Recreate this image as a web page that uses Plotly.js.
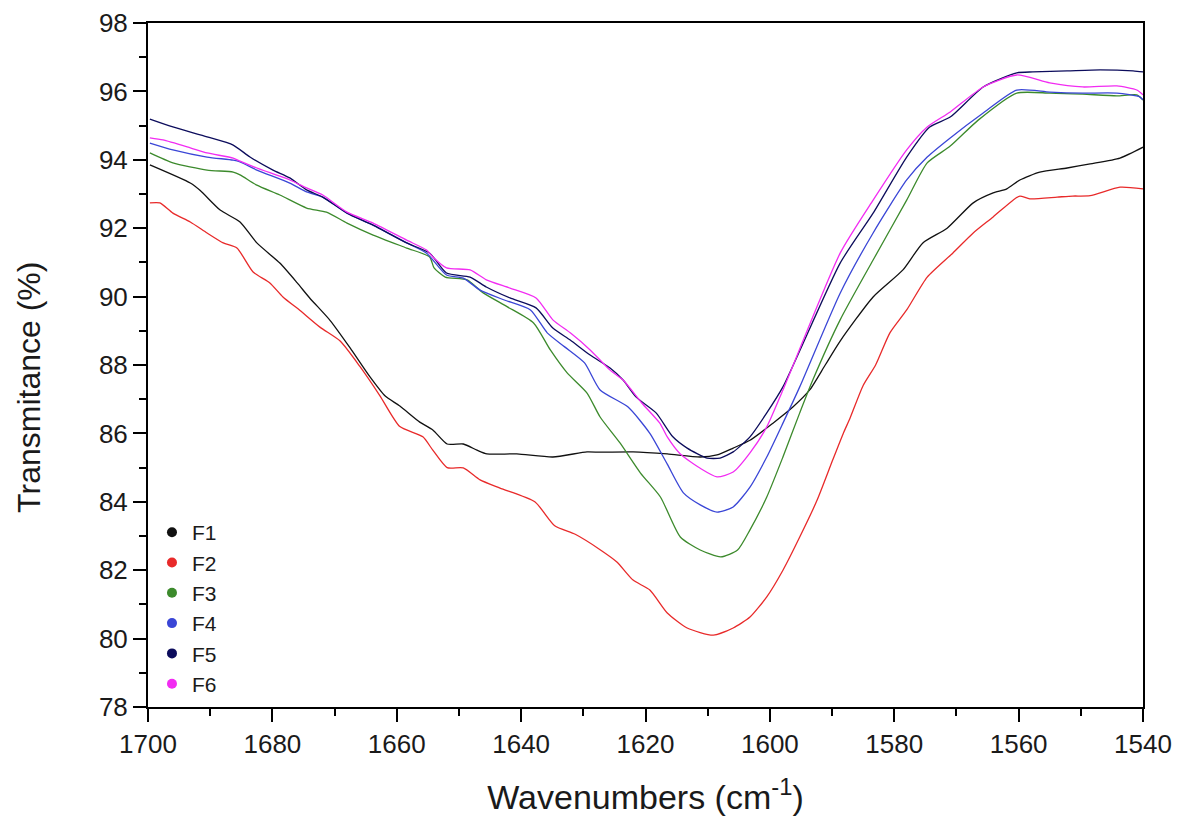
<!DOCTYPE html>
<html>
<head>
<meta charset="utf-8">
<script src="https://cdn.plot.ly/plotly-3.0.1.min.js"></script>
<style>html,body{margin:0;padding:0;background:#fff;}#chart{width:1188px;height:816px;}</style>
</head>
<body>
<div id="chart"></div>
<script>
// Series labels and colours
const seriesNames = ["F1", "F2", "F3", "F4", "F5", "F6"];
const seriesColors = ["#111111", "#e82a2a", "#3c8a2c", "#3a46d6", "#0c0c5c", "#f22cf2"];

// F1 (black)
const f1Wave = [1699.7,1693.2,1691.6,1688.4,1685.2,1682.5,1678.8,1676.0,1674.0,1670.7,1667.5,1664.3,1661.9,1659.5,1656.3,1654.2,1651.9,1649.3,1647.1,1645.5,1640.7,1634.9,1629.4,1627.3,1622.0,1616.5,1611.2,1608.5,1605.9,1603.2,1599.5,1596.3,1593.6,1591.1,1588.7,1583.4,1578.6,1575.4,1571.5,1567.3,1564.1,1561.9,1559.8,1556.6,1552.2,1548.5,1543.7,1540.0];
const f1Trans = [93.85,93.32,93.10,92.53,92.18,91.57,90.98,90.40,89.96,89.30,88.50,87.65,87.10,86.80,86.33,86.10,85.69,85.69,85.51,85.40,85.40,85.31,85.46,85.45,85.46,85.40,85.31,85.37,85.57,85.80,86.30,86.77,87.27,88.00,88.70,89.99,90.78,91.57,92.00,92.74,93.03,93.15,93.41,93.64,93.76,93.88,94.05,94.37];

// F2 (red)
const f2Wave = [1699.7,1698.1,1696.0,1693.2,1690.5,1687.9,1685.7,1683.1,1680.4,1678.3,1675.6,1672.3,1669.1,1665.9,1662.7,1659.5,1655.8,1654.2,1651.9,1649.3,1646.6,1643.4,1637.8,1634.6,1631.3,1627.3,1624.6,1622.0,1619.3,1616.5,1613.3,1609.1,1605.9,1603.2,1600.5,1597.9,1595.2,1592.4,1589.9,1588.2,1587.1,1585.0,1583.0,1580.7,1578.0,1574.7,1570.6,1567.3,1564.1,1560.9,1559.8,1558.2,1553.8,1551.3,1548.5,1543.7,1540.0];
const f2Trans = [92.74,92.74,92.44,92.18,91.86,91.57,91.42,90.72,90.40,89.99,89.60,89.10,88.70,87.95,87.10,86.20,85.90,85.51,85.00,84.99,84.64,84.40,84.00,83.30,83.05,82.60,82.24,81.71,81.42,80.75,80.31,80.10,80.31,80.63,81.22,82.00,82.97,84.05,85.22,86.00,86.45,87.40,88.00,88.94,89.61,90.57,91.27,91.86,92.33,92.82,92.94,92.86,92.91,92.94,92.95,93.20,93.15];

// F3 (green)
const f3Wave = [1699.7,1696.0,1690.5,1686.3,1685.2,1682.5,1678.8,1674.5,1671.3,1668.0,1663.8,1658.4,1654.7,1654.0,1652.2,1648.7,1646.1,1642.2,1638.0,1635.3,1632.6,1629.4,1627.3,1624.1,1620.8,1617.6,1614.4,1611.2,1607.9,1605.2,1603.2,1600.5,1597.9,1595.2,1593.1,1588.7,1583.4,1578.0,1574.7,1571.0,1566.5,1560.3,1555.0,1549.7,1544.2,1541.0,1540.0];
const f3Trans = [94.20,93.91,93.70,93.64,93.56,93.26,92.97,92.59,92.47,92.15,91.80,91.42,91.16,90.84,90.57,90.49,90.11,89.70,89.23,88.44,87.77,87.18,86.48,85.72,84.84,84.14,82.97,82.59,82.39,82.59,83.18,84.14,85.31,86.60,87.56,89.32,91.07,92.82,93.91,94.40,95.16,95.95,95.95,95.92,95.87,95.90,95.75];

// F4 (blue)
const f4Wave = [1699.7,1696.0,1690.5,1686.3,1685.2,1682.5,1677.2,1674.5,1671.9,1668.0,1663.8,1658.4,1655.2,1652.0,1649.3,1646.6,1642.7,1638.5,1635.8,1633.0,1629.8,1627.3,1622.8,1619.3,1616.5,1613.9,1611.2,1608.5,1605.9,1603.2,1600.5,1597.9,1595.2,1588.7,1583.4,1578.0,1574.7,1571.0,1565.7,1560.3,1555.0,1549.7,1544.2,1540.5,1540.0];
const f4Trans = [94.49,94.29,94.08,93.99,93.94,93.70,93.32,93.06,92.91,92.44,92.09,91.57,91.27,90.63,90.54,90.19,89.90,89.61,88.94,88.53,88.06,87.27,86.77,86.00,85.10,84.26,83.91,83.70,83.85,84.43,85.31,86.30,87.36,90.10,91.86,93.41,94.08,94.64,95.37,96.04,95.98,95.95,95.95,95.84,95.75];

// F5 (navy)
const f5Wave = [1699.7,1696.0,1690.5,1686.3,1683.6,1679.9,1677.2,1674.5,1671.9,1668.0,1663.8,1658.4,1654.7,1652.0,1648.2,1645.6,1641.8,1637.6,1634.9,1632.1,1628.9,1625.7,1623.6,1621.5,1618.3,1615.6,1613.3,1610.1,1608.0,1605.9,1603.2,1600.5,1597.9,1588.7,1583.4,1578.0,1574.3,1571.0,1565.7,1560.3,1557.7,1552.2,1546.9,1541.6,1540.0];
const f5Trans = [95.19,94.96,94.67,94.43,94.08,93.70,93.47,93.12,92.91,92.44,92.09,91.57,91.27,90.69,90.57,90.28,89.96,89.67,89.08,88.73,88.29,87.91,87.56,87.06,86.60,85.90,85.57,85.28,85.28,85.46,85.90,86.60,87.36,90.98,92.44,94.08,94.96,95.25,96.13,96.54,96.57,96.60,96.63,96.60,96.57];

// F6 (magenta)
const f6Wave = [1699.7,1697.6,1693.2,1690.5,1686.3,1685.2,1682.5,1677.2,1674.5,1671.9,1668.0,1663.8,1658.4,1655.2,1654.2,1652.0,1648.2,1645.6,1641.8,1637.6,1634.9,1632.1,1628.9,1625.7,1623.6,1620.6,1617.7,1616.5,1614.4,1611.2,1608.5,1605.9,1603.2,1600.5,1597.9,1588.7,1583.4,1578.0,1574.7,1571.0,1565.7,1560.3,1555.0,1549.7,1544.2,1541.0,1540.0];
const f6Trans = [94.64,94.58,94.35,94.20,94.05,93.96,93.76,93.41,93.18,92.97,92.47,92.15,91.65,91.36,91.16,90.84,90.78,90.49,90.25,89.96,89.32,88.94,88.44,87.85,87.56,86.89,86.30,85.90,85.40,84.98,84.73,84.87,85.43,86.19,87.27,91.27,92.82,94.29,94.96,95.40,96.13,96.48,96.25,96.13,96.16,96.04,95.90];

// Axis ticks and titles
const xTickVals = [1700,1680,1660,1640,1620,1600,1580,1560,1540];
const yTickVals = [78,80,82,84,86,88,90,92,94,96,98];
const xTitle = 'Wavenumbers (cm<sup>-1</sup>)';
const yTitle = 'Transmitance (%)';

const waves = [f1Wave, f2Wave, f3Wave, f4Wave, f5Wave, f6Wave];
const trans = [f1Trans, f2Trans, f3Trans, f4Trans, f5Trans, f6Trans];

const traces = [];
for (let i = 0; i < seriesNames.length; i++) {
  traces.push({
    x: waves[i], y: trans[i], type: 'scatter', mode: 'lines',
    name: seriesNames[i], showlegend: false,
    line: {color: seriesColors[i], width: 1.3, shape: 'spline', smoothing: 0.6}
  });
}
for (let i = 0; i < seriesNames.length; i++) {
  traces.push({
    x: [null], y: [null], type: 'scatter', mode: 'markers',
    name: seriesNames[i], legendgroup: 'g' + i, showlegend: true,
    marker: {color: seriesColors[i], size: 10, symbol: 'circle'}
  });
}

const fontFam = 'Liberation Sans, Arial, sans-serif';
const layout = {
  width: 1188, height: 816,
  margin: {l: 148, r: 45, t: 23, b: 109},
  paper_bgcolor: '#ffffff', plot_bgcolor: '#ffffff',
  font: {family: fontFam, color: '#1a1a1a'},
  showlegend: true,
  legend: {
    x: 0.004, xanchor: 'left', y: 0.285, yanchor: 'top',
    font: {size: 21, family: fontFam, color: '#1a1a1a'},
    bgcolor: 'rgba(0,0,0,0)', borderwidth: 0,
    traceorder: 'grouped', tracegroupgap: 0, itemwidth: 30
  },
  xaxis: {
    range: [1700, 1540], autorange: false,
    tickvals: xTickVals, ticktext: xTickVals.map(String),
    ticks: 'outside', ticklen: 13, tickwidth: 2, tickcolor: '#000',
    minor: {dtick: 10, tick0: 1700, ticks: 'outside', ticklen: 7, tickwidth: 2, tickcolor: '#000', showgrid: false},
    showline: true, linecolor: '#000', linewidth: 2, mirror: true,
    showgrid: false, zeroline: false,
    tickfont: {size: 26, family: fontFam, color: '#1a1a1a'},
    title: {text: xTitle, font: {size: 34, family: fontFam, color: '#1a1a1a'}, standoff: 28}
  },
  yaxis: {
    range: [78, 98], autorange: false,
    tickvals: yTickVals, ticktext: yTickVals.map(String),
    ticks: 'outside', ticklen: 13, tickwidth: 2, tickcolor: '#000',
    minor: {dtick: 1, tick0: 78, ticks: 'outside', ticklen: 7, tickwidth: 2, tickcolor: '#000', showgrid: false},
    showline: true, linecolor: '#000', linewidth: 2, mirror: true,
    showgrid: false, zeroline: false,
    tickfont: {size: 26, family: fontFam, color: '#1a1a1a'}
  },
  annotations: [{
    text: yTitle, xref: 'paper', yref: 'paper',
    x: -0.1196, y: 0.468, xanchor: 'center', yanchor: 'middle',
    textangle: -90, showarrow: false,
    font: {size: 32, family: fontFam, color: '#1a1a1a'}
  }]
};

Plotly.newPlot('chart', traces, layout, {displayModeBar: false, staticPlot: true});
</script>
</body>
</html>
